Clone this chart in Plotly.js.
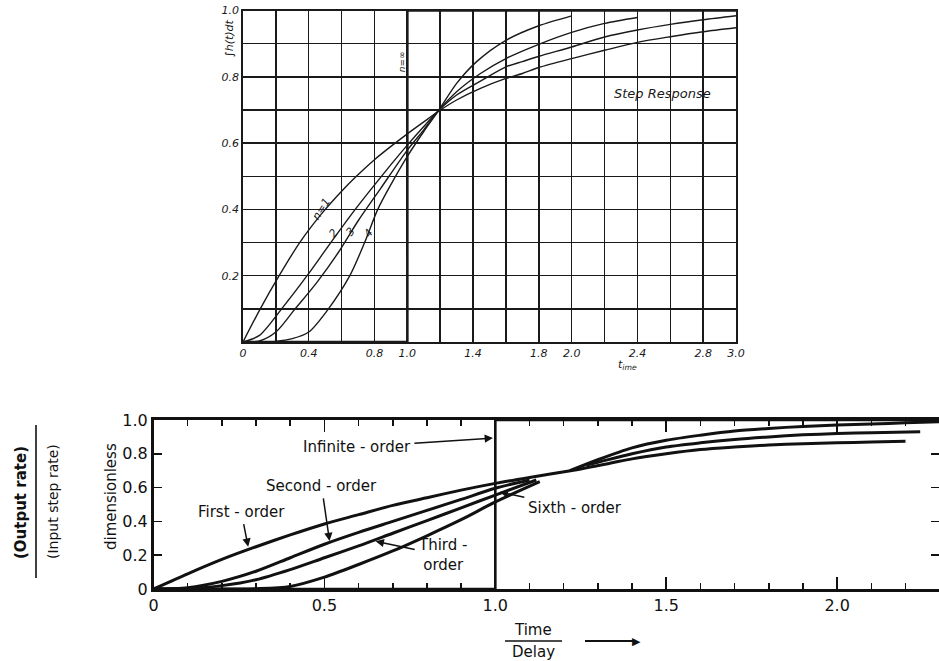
<!DOCTYPE html>
<html>
<head>
<meta charset="utf-8">
<script src="https://cdn.plot.ly/plotly-3.0.1.min.js"></script>
<style>html,body{margin:0;padding:0;background:#fff;}#chart{width:939px;height:661px;}</style>
</head>
<body>
<div id="chart"></div>
<script>
// ---------- Top chart: step response (integral of h(t)) ----------
const topN1T = [0, 0.105, 0.22, 0.345, 0.475, 0.6, 0.69, 0.8, 0.9, 1.0, 1.1, 1.19, 1.3, 1.445, 1.6, 1.7, 1.8, 2.0, 2.2, 2.4, 2.6, 2.8, 3.0];
const topN1V = [0, 0.1, 0.2, 0.3, 0.385, 0.455, 0.5, 0.55, 0.59, 0.628, 0.664, 0.696, 0.73, 0.765, 0.795, 0.81, 0.828, 0.855, 0.88, 0.904, 0.921, 0.936, 0.948];
const topN2T = [0, 0.1, 0.235, 0.39, 0.52, 0.66, 0.77, 0.9, 1.0, 1.1, 1.19, 1.3, 1.445, 1.6, 1.7, 1.8, 2.0, 2.2, 2.4, 2.6, 2.8, 3.0];
const topN2V = [0, 0.02, 0.1, 0.2, 0.29, 0.385, 0.455, 0.535, 0.594, 0.65, 0.698, 0.745, 0.787, 0.83, 0.846, 0.862, 0.89, 0.92, 0.941, 0.958, 0.972, 0.984];
const topN3T = [0, 0.1, 0.2, 0.317, 0.45, 0.58, 0.7, 0.84, 1.0, 1.1, 1.19, 1.3, 1.445, 1.6, 1.8, 2.0, 2.2, 2.4];
const topN3V = [0, 0.003, 0.03, 0.1, 0.18, 0.27, 0.365, 0.465, 0.579, 0.64, 0.698, 0.755, 0.81, 0.855, 0.898, 0.934, 0.961, 0.979];
const topN4T = [0, 0.2, 0.3, 0.4, 0.52, 0.65, 0.74, 0.82, 0.9, 1.0, 1.1, 1.19, 1.3, 1.42, 1.6, 1.8, 2.0];
const topN4V = [0, 0.002, 0.01, 0.03, 0.1, 0.2, 0.3, 0.4, 0.475, 0.56, 0.635, 0.698, 0.78, 0.845, 0.91, 0.954, 0.984];
const topInfT = [0, 1, 1, 3];
const topInfV = [0, 0, 1, 1];
const topXTickVals = [0, 0.4, 0.8, 1.0, 1.4, 1.8, 2.0, 2.4, 2.8, 3.0];
const topXTickText = ['0', '0.4', '0.8', '1.0', '1.4', '1.8', '2.0', '2.4', '2.8', '3.0'];
const topYTickVals = [0.2, 0.4, 0.6, 0.8, 1.0];
const topYTickText = ['0.2', '0.4', '0.6', '0.8', '1.0'];

// ---------- Bottom chart: output rate / input step rate ----------
const firstT = [0, 0.1, 0.2, 0.3, 0.4, 0.5, 0.6, 0.7, 0.8, 0.9, 1.0, 1.1, 1.22, 1.335, 1.4, 1.5, 1.6, 1.7, 1.8, 1.9, 2.0, 2.1, 2.2];
const firstV = [0, 0.09, 0.175, 0.25, 0.32, 0.385, 0.44, 0.495, 0.54, 0.585, 0.625, 0.66, 0.70, 0.744, 0.77, 0.80, 0.825, 0.84, 0.852, 0.86, 0.865, 0.87, 0.875];
const secondT = [0, 0.1, 0.2, 0.3, 0.4, 0.5, 0.6, 0.7, 0.8, 0.9, 1.0, 1.1];
const secondV = [0, 0.008, 0.045, 0.105, 0.185, 0.265, 0.335, 0.40, 0.465, 0.53, 0.596, 0.645];
const thirdT = [0, 0.1, 0.2, 0.3, 0.4, 0.5, 0.6, 0.7, 0.8, 0.9, 1.0, 1.12];
const thirdV = [0, 0.003, 0.02, 0.055, 0.115, 0.185, 0.255, 0.33, 0.405, 0.48, 0.556, 0.645];
const sixthT = [0, 0.3, 0.4, 0.5, 0.6, 0.7, 0.8, 0.9, 1.0, 1.13];
const sixthV = [0, 0.002, 0.015, 0.07, 0.145, 0.225, 0.315, 0.41, 0.515, 0.635];
const upperAT = [1.218, 1.3, 1.4, 1.5, 1.6, 1.7, 1.8, 1.9, 2.0, 2.1, 2.2, 2.3];
const upperAV = [0.70, 0.765, 0.835, 0.88, 0.91, 0.935, 0.95, 0.962, 0.97, 0.977, 0.983, 0.99];
const upperBT = [1.267, 1.3, 1.4, 1.5, 1.6, 1.7, 1.8, 1.9, 2.0, 2.1, 2.243];
const upperBV = [0.734, 0.75, 0.80, 0.84, 0.865, 0.885, 0.90, 0.912, 0.92, 0.925, 0.93];
const infT = [0, 1, 1, 2.3];
const infV = [0, 0, 1, 1];
const botXTickVals = [0, 0.5, 1.0, 1.5, 2.0];
const botXTickText = ['0', '0.5', '1.0', '1.5', '2.0'];
const botYTickVals = [0, 0.2, 0.4, 0.6, 0.8, 1.0];
const botYTickText = ['0', '0.2', '0.4', '0.6', '0.8', '1.0'];

const ink = '#1a1a1a';
function topLine(x, y, w) {
  return {x: x, y: y, xaxis: 'x', yaxis: 'y', mode: 'lines', type: 'scatter',
    line: {color: ink, width: w || 1.4, shape: 'spline', smoothing: 0.8}, hoverinfo: 'skip', showlegend: false};
}
function botLine(x, y, w, shape) {
  return {x: x, y: y, xaxis: 'x2', yaxis: 'y2', mode: 'lines', type: 'scatter',
    line: {color: '#111', width: w || 3, shape: shape || 'spline', smoothing: 0.8}, hoverinfo: 'skip', showlegend: false};
}

const traces = [
  topLine(topN1T, topN1V), topLine(topN2T, topN2V), topLine(topN3T, topN3V), topLine(topN4T, topN4V),
  {x: topInfT, y: topInfV, xaxis: 'x', yaxis: 'y', mode: 'lines', line: {color: ink, width: 2.6, shape: 'linear'}, hoverinfo: 'skip', showlegend: false},
  botLine(firstT, firstV), botLine(secondT, secondV), botLine(thirdT, thirdV), botLine(sixthT, sixthV),
  botLine(upperAT, upperAV), botLine(upperBT, upperBV),
  botLine(infT, infV, 2.6, 'linear')
];

const topFont = {family: 'DejaVu Sans', size: 11, color: ink, style: 'italic'};
const botFont = {family: 'DejaVu Sans', size: 16, color: '#111'};
const lblFont = {family: 'DejaVu Sans', size: 15, color: '#111'};

function txt(o) { return Object.assign({showarrow: false, xanchor: 'center', yanchor: 'middle'}, o); }
function lbl(o) { return Object.assign({showarrow: true, xanchor: 'center', yanchor: 'middle', xref: 'x2', yref: 'y2', font: lblFont,
  arrowhead: 2, arrowsize: 1.1, arrowwidth: 1.5, arrowcolor: '#111', standoff: 0, startstandoff: 2}, o); }

const layout = {
  width: 939, height: 661,
  margin: {l: 0, r: 0, t: 0, b: 0},
  paper_bgcolor: '#fff', plot_bgcolor: '#fff',
  showlegend: false,
  xaxis: {
    domain: [243/939, 736/939], range: [0, 3], anchor: 'y',
    tickmode: 'array', tickvals: topXTickVals, ticktext: topXTickText, tickfont: topFont,
    showgrid: true, gridcolor: ink, gridwidth: 1.5,
    minor: {tickmode: 'linear', tick0: 0, dtick: 0.2, showgrid: true, gridcolor: ink, gridwidth: 1.5},
    ticks: '', showline: true, mirror: true, linecolor: ink, linewidth: 1.8, zeroline: false
  },
  yaxis: {
    domain: [1 - 342/661, 1 - 10.5/661], range: [0, 1], anchor: 'x',
    tickmode: 'array', tickvals: topYTickVals, ticktext: topYTickText, tickfont: topFont,
    showgrid: true, gridcolor: ink, gridwidth: 1.5,
    minor: {tickmode: 'linear', tick0: 0, dtick: 0.1, showgrid: true, gridcolor: ink, gridwidth: 1.5},
    ticks: '', showline: true, mirror: true, linecolor: ink, linewidth: 1.8, zeroline: false
  },
  xaxis2: {
    domain: [153.5/939, 1], range: [0, 2.298], anchor: 'y2',
    tickmode: 'array', tickvals: botXTickVals, ticktext: botXTickText, tickfont: botFont,
    ticks: 'inside', ticklen: 12, tickwidth: 1.6, tickcolor: '#111',
    minor: {tickmode: 'linear', tick0: 0, dtick: 0.1, ticks: 'inside', ticklen: 6, tickwidth: 1.6, tickcolor: '#111', showgrid: false},
    showgrid: false, showline: true, mirror: 'ticks', linecolor: '#111', linewidth: 2.6, zeroline: false
  },
  yaxis2: {
    domain: [1 - 589/661, 1 - 420/661], range: [0, 1], anchor: 'x2',
    tickmode: 'array', tickvals: botYTickVals, ticktext: botYTickText, tickfont: botFont,
    ticks: 'inside', ticklen: 8, tickwidth: 1.6, tickcolor: '#111',
    showgrid: false, showline: true, mirror: 'ticks', linecolor: '#111', linewidth: 2.6, zeroline: false
  },
  annotations: [
    // top chart
    txt({xref: 'x', yref: 'y', x: 2.55, y: 0.751, text: 'Step Response', font: {family: 'DejaVu Sans', size: 13, color: ink, style: 'italic'}}),
    txt({xref: 'x', yref: 'y', x: 0.965, y: 0.846, text: 'n=∞', textangle: -90, font: {family: 'DejaVu Sans', size: 9, color: ink, style: 'italic'}}),
    txt({xref: 'x', yref: 'y', x: 0.475, y: 0.40, text: 'n=1', textangle: -57, font: {family: 'DejaVu Sans', size: 11, color: ink, style: 'italic'}}),
    txt({xref: 'x', yref: 'y', x: 0.55, y: 0.328, text: '2', textangle: -50, font: {family: 'DejaVu Sans', size: 11, color: ink, style: 'italic'}}),
    txt({xref: 'x', yref: 'y', x: 0.657, y: 0.333, text: '3', textangle: -50, font: {family: 'DejaVu Sans', size: 11, color: ink, style: 'italic'}}),
    txt({xref: 'x', yref: 'y', x: 0.763, y: 0.328, text: '4', textangle: -50, font: {family: 'DejaVu Sans', size: 11, color: ink, style: 'italic'}}),
    txt({xref: 'paper', yref: 'paper', x: 229/939, y: 1 - 38/661, text: '∫h(t)dt', textangle: -90, font: {family: 'DejaVu Sans', size: 11, color: ink, style: 'italic'}}),
    txt({xref: 'paper', yref: 'paper', x: 627/939, y: 1 - 365/661, text: 't<sub>ime</sub>', font: {family: 'DejaVu Sans', size: 11, color: ink, style: 'italic'}}),
    // bottom chart labels with arrows (head at curve, text at tail)
    lbl({x: 0.993, y: 0.893, ax: -136, ay: 9, text: 'Infinite - order'}),
    lbl({x: 0.515, y: 0.284, ax: -8, ay: -55, text: 'Second - order'}),
    lbl({x: 0.277, y: 0.25, ax: -7, ay: -35, text: 'First - order'}),
    lbl({x: 0.65, y: 0.282, ax: 67, ay: 14, text: 'Third -<br>order', align: 'center'}),
    lbl({x: 1.013, y: 0.574, ax: 75, ay: 16, text: 'Sixth - order'}),
    // bottom y titles
    txt({xref: 'paper', yref: 'paper', x: 111/939, y: 1 - 497/661, text: 'dimensionless', textangle: -90, font: lblFont}),
    txt({xref: 'paper', yref: 'paper', x: 21/939, y: 1 - 503/661, text: '(Output rate)', textangle: -90, font: {family: 'DejaVu Sans', size: 15, color: '#111', weight: 'bold'}}),
    txt({xref: 'paper', yref: 'paper', x: 53/939, y: 1 - 502/661, text: '(Input step rate)', textangle: -90, font: {family: 'DejaVu Sans', size: 14, color: '#111'}}),
    // bottom x title
    txt({xref: 'paper', yref: 'paper', x: 533/939, y: 1 - 630/661, text: 'Time', font: lblFont}),
    txt({xref: 'paper', yref: 'paper', x: 533/939, y: 1 - 652/661, text: 'Delay', font: lblFont}),
    txt({xref: 'paper', yref: 'paper', x: 636/939, y: 1 - 641/661, text: '▶', font: {family: 'DejaVu Sans', size: 11, color: '#111'}})
  ],
  shapes: [
    {type: 'line', xref: 'paper', yref: 'paper', x0: 505/939, x1: 562/939, y0: 1 - 641/661, y1: 1 - 641/661, line: {color: '#111', width: 1.6}},
    {type: 'line', xref: 'paper', yref: 'paper', x0: 585/939, x1: 634/939, y0: 1 - 641/661, y1: 1 - 641/661, line: {color: '#111', width: 1.8}},
    {type: 'line', xref: 'paper', yref: 'paper', x0: 36/939, x1: 36/939, y0: 1 - 425/661, y1: 1 - 578/661, line: {color: '#111', width: 1.6}}
  ]
};

Plotly.newPlot('chart', traces, layout, {staticPlot: true, displayModeBar: false});
</script>
</body>
</html>
